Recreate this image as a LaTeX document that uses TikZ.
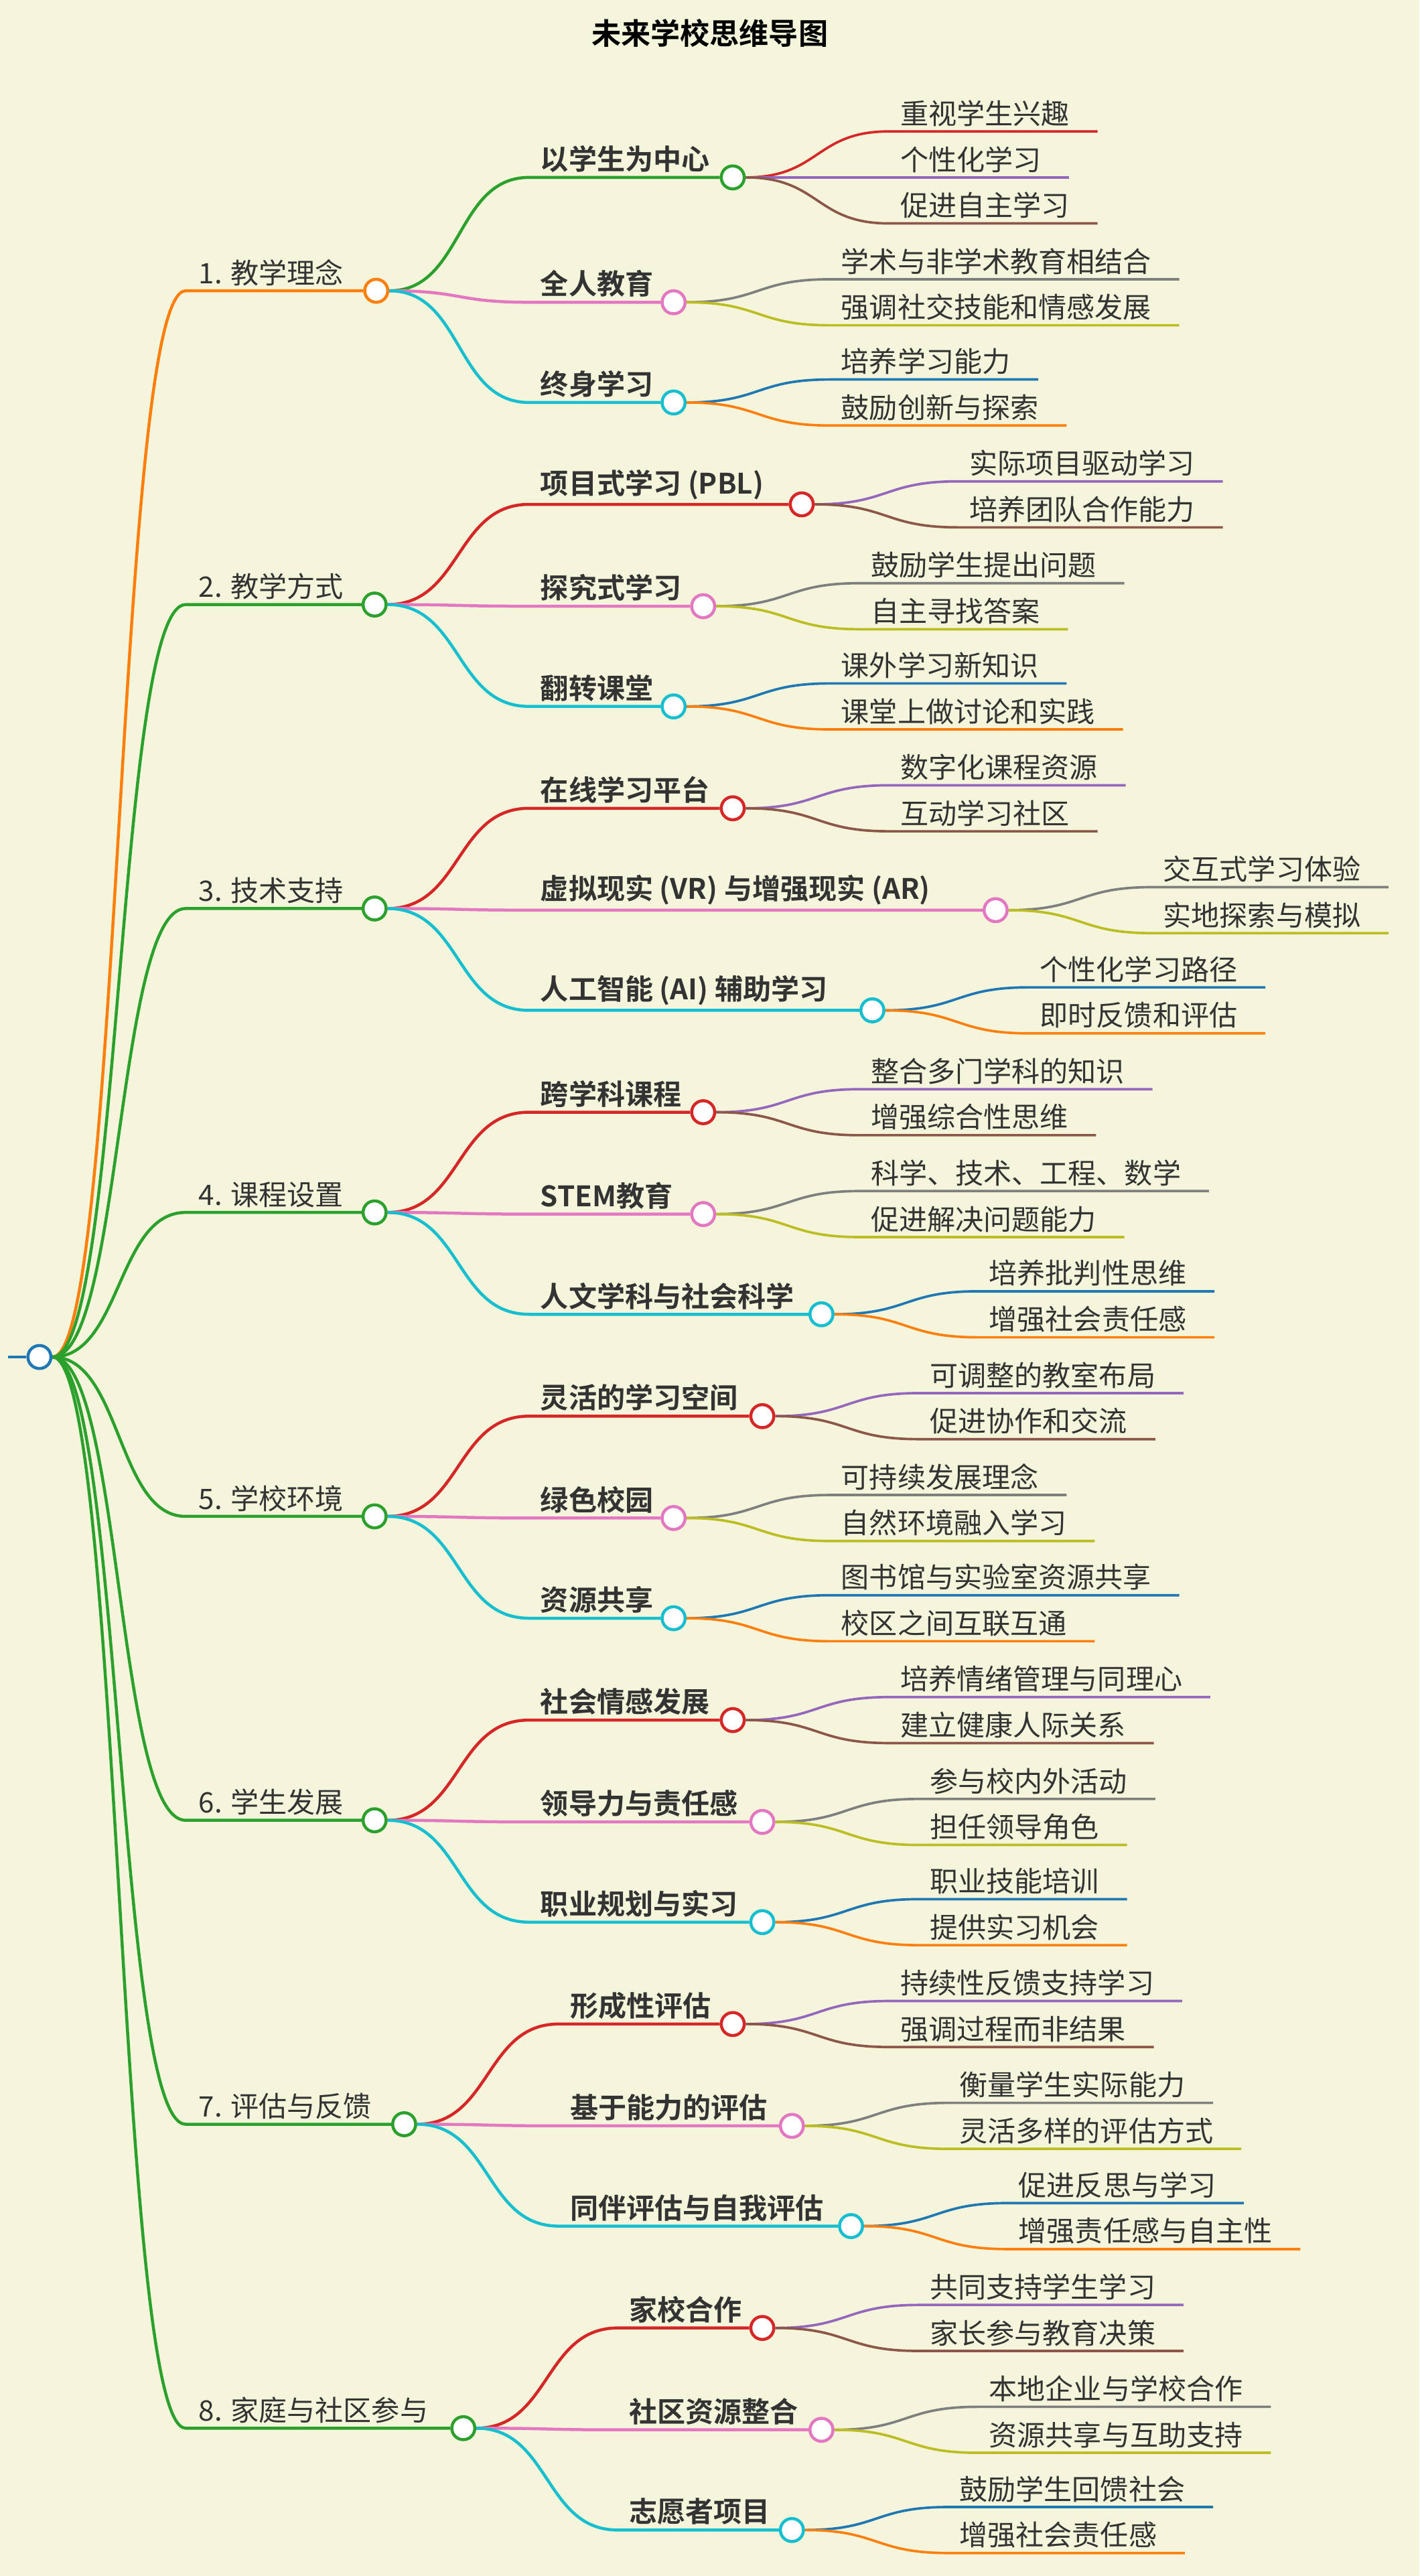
\documentclass[tikz,border=0pt]{standalone}
\usepackage{fontspec}
\setmainfont{Noto Sans CJK SC}[BoldFont={Noto Sans CJK SC Bold}]
\definecolor{cblue}{HTML}{1F77B4}\definecolor{corange}{HTML}{FF7F0E}
\definecolor{cgreen}{HTML}{2CA02C}\definecolor{cred}{HTML}{D62728}
\definecolor{cpurple}{HTML}{9467BD}\definecolor{cbrown}{HTML}{8C564B}
\definecolor{cpink}{HTML}{E377C2}\definecolor{cgray}{HTML}{7F7F7F}
\definecolor{colive}{HTML}{BCBD22}\definecolor{ccyan}{HTML}{17BECF}
\definecolor{bgc}{HTML}{F5F5DC}\definecolor{txtc}{HTML}{333333}
\pgfdeclarelayer{bg}\pgfdeclarelayer{back}\pgfsetlayers{back,bg,main}
\tikzset{
 circ/.style={circle,fill=white,line width=1.1pt,minimum width=7.8pt,minimum height=8.4pt,inner sep=0pt},
 txt/.style={inner sep=1pt,text=txtc,font=\fontsize{10.3}{12}\selectfont,anchor=south west},
 btxt/.style={txt,font=\fontsize{10.3}{12}\selectfont\bfseries},
 edge/.style={line width=1.1pt},
 edge3/.style={line width=0.9pt},
}
\newcommand\Lone[5]{% name y cx color text
 \coordinate (#1-s) at (113,#2);
 \node[circ,draw=#4] (#1) at (#3,#2) {};
 \node[txt] (#1-t) at (119,#2-1) {#5};
 \begin{pgfonlayer}{bg}\draw[edge,#4] (root.east) .. controls +(42,0) and +(-42,0) .. (#1-s) -- (#1.west);\end{pgfonlayer}}
\newcommand\Ltwo[7]{% parent name sx y cx color text
 \coordinate (#2-s) at (#3,#4);
 \node[circ,draw=#6] (#2) at (#5,#4) {};
 \node[btxt] (#2-t) at (#3+5,#4-1) {#7};
 \begin{pgfonlayer}{bg}\draw[edge,#6] (#1.east) .. controls +(45,0) and +(-45,0) .. (#2-s) -- (#2.west);\end{pgfonlayer}}
\newcommand\Lthree[5]{% parent name dy color text
 \path (#1) ++(95,#3) coordinate (#2-s);
 \node[txt] (#2-t) at ([shift={(5,-1)}]#2-s) {#5};
 \begin{pgfonlayer}{bg}\draw[edge3,#4] (#1.east) .. controls +(45,0) and +(-45,0) .. (#2-s) -- (#2-s -| #2-t.east) -- ++(15,0);\end{pgfonlayer}}
\begin{document}
\begin{tikzpicture}[x=0.6pt,y=-0.6pt]
\begin{pgfonlayer}{back}
\fill[bgc] (0,0) rectangle (864,1568);
\end{pgfonlayer}
\useasboundingbox (0,0) rectangle (864,1568);
\node[font=\fontsize{10.8}{12}\selectfont\bfseries,text=black] (title) at (432,20) {未来学校思维导图};
\node[circ,draw=cblue] (root) at (24,826) {};
\coordinate (rootl) at (5,826);
\begin{pgfonlayer}{bg}\draw[edge,cblue] (rootl) -- (root.west);\end{pgfonlayer}
% G1
\Lone{g1}{177}{229}{corange}{1. 教学理念}
\Ltwo{g1}{a1}{322}{108}{446}{cgreen}{以学生为中心}
\Lthree{a1}{a1x}{-28}{cred}{重视学生兴趣}
\Lthree{a1}{a1y}{0}{cpurple}{个性化学习}
\Lthree{a1}{a1z}{28}{cbrown}{促进自主学习}
\Ltwo{g1}{a2}{322}{184}{410}{cpink}{全人教育}
\Lthree{a2}{a2x}{-14}{cgray}{学术与非学术教育相结合}
\Lthree{a2}{a2y}{14}{colive}{强调社交技能和情感发展}
\Ltwo{g1}{a3}{322}{245}{410}{ccyan}{终身学习}
\Lthree{a3}{a3x}{-14}{cblue}{培养学习能力}
\Lthree{a3}{a3y}{14}{corange}{鼓励创新与探索}
% G2
\Lone{g2}{368}{228}{cgreen}{2. 教学方式}
\Ltwo{g2}{b1}{322}{307}{488}{cred}{项目式学习 (PBL)}
\Lthree{b1}{b1x}{-14}{cpurple}{实际项目驱动学习}
\Lthree{b1}{b1y}{14}{cbrown}{培养团队合作能力}
\Ltwo{g2}{b2}{322}{369}{428}{cpink}{探究式学习}
\Lthree{b2}{b2x}{-14}{cgray}{鼓励学生提出问题}
\Lthree{b2}{b2y}{14}{colive}{自主寻找答案}
\Ltwo{g2}{b3}{322}{430}{410}{ccyan}{翻转课堂}
\Lthree{b3}{b3x}{-14}{cblue}{课外学习新知识}
\Lthree{b3}{b3y}{14}{corange}{课堂上做讨论和实践}
% G3
\Lone{g3}{553}{228}{cgreen}{3. 技术支持}
\Ltwo{g3}{c1}{322}{492}{446}{cred}{在线学习平台}
\Lthree{c1}{c1x}{-14}{cpurple}{数字化课程资源}
\Lthree{c1}{c1y}{14}{cbrown}{互动学习社区}
\Ltwo{g3}{c2}{322}{554}{606}{cpink}{虚拟现实 (VR) 与增强现实 (AR)}
\Lthree{c2}{c2x}{-14}{cgray}{交互式学习体验}
\Lthree{c2}{c2y}{14}{colive}{实地探索与模拟}
\Ltwo{g3}{c3}{322}{615}{531}{ccyan}{人工智能 (AI) 辅助学习}
\Lthree{c3}{c3x}{-14}{cblue}{个性化学习路径}
\Lthree{c3}{c3y}{14}{corange}{即时反馈和评估}
% G4
\Lone{g4}{738}{228}{cgreen}{4. 课程设置}
\Ltwo{g4}{d1}{322}{677}{428}{cred}{跨学科课程}
\Lthree{d1}{d1x}{-14}{cpurple}{整合多门学科的知识}
\Lthree{d1}{d1y}{14}{cbrown}{增强综合性思维}
\Ltwo{g4}{d2}{322}{739}{428}{cpink}{STEM教育}
\Lthree{d2}{d2x}{-14}{cgray}{科学、技术、工程、数学}
\Lthree{d2}{d2y}{14}{colive}{促进解决问题能力}
\Ltwo{g4}{d3}{322}{800}{500}{ccyan}{人文学科与社会科学}
\Lthree{d3}{d3x}{-14}{cblue}{培养批判性思维}
\Lthree{d3}{d3y}{14}{corange}{增强社会责任感}
% G5
\Lone{g5}{923}{228}{cgreen}{5. 学校环境}
\Ltwo{g5}{e1}{322}{862}{464}{cred}{灵活的学习空间}
\Lthree{e1}{e1x}{-14}{cpurple}{可调整的教室布局}
\Lthree{e1}{e1y}{14}{cbrown}{促进协作和交流}
\Ltwo{g5}{e2}{322}{924}{410}{cpink}{绿色校园}
\Lthree{e2}{e2x}{-14}{cgray}{可持续发展理念}
\Lthree{e2}{e2y}{14}{colive}{自然环境融入学习}
\Ltwo{g5}{e3}{322}{985}{410}{ccyan}{资源共享}
\Lthree{e3}{e3x}{-14}{cblue}{图书馆与实验室资源共享}
\Lthree{e3}{e3y}{14}{corange}{校区之间互联互通}
% G6
\Lone{g6}{1108}{228}{cgreen}{6. 学生发展}
\Ltwo{g6}{f1}{322}{1047}{446}{cred}{社会情感发展}
\Lthree{f1}{f1x}{-14}{cpurple}{培养情绪管理与同理心}
\Lthree{f1}{f1y}{14}{cbrown}{建立健康人际关系}
\Ltwo{g6}{f2}{322}{1109}{464}{cpink}{领导力与责任感}
\Lthree{f2}{f2x}{-14}{cgray}{参与校内外活动}
\Lthree{f2}{f2y}{14}{colive}{担任领导角色}
\Ltwo{g6}{f3}{322}{1170}{464}{ccyan}{职业规划与实习}
\Lthree{f3}{f3x}{-14}{cblue}{职业技能培训}
\Lthree{f3}{f3y}{14}{corange}{提供实习机会}
% G7
\Lone{g7}{1293}{246}{cgreen}{7. 评估与反馈}
\Ltwo{g7}{h1}{340}{1232}{446}{cred}{形成性评估}
\Lthree{h1}{h1x}{-14}{cpurple}{持续性反馈支持学习}
\Lthree{h1}{h1y}{14}{cbrown}{强调过程而非结果}
\Ltwo{g7}{h2}{340}{1294}{482}{cpink}{基于能力的评估}
\Lthree{h2}{h2x}{-14}{cgray}{衡量学生实际能力}
\Lthree{h2}{h2y}{14}{colive}{灵活多样的评估方式}
\Ltwo{g7}{h3}{340}{1355}{518}{ccyan}{同伴评估与自我评估}
\Lthree{h3}{h3x}{-14}{cblue}{促进反思与学习}
\Lthree{h3}{h3y}{14}{corange}{增强责任感与自主性}
% G8
\Lone{g8}{1478}{282}{cgreen}{8. 家庭与社区参与}
\Ltwo{g8}{k1}{376}{1417}{464}{cred}{家校合作}
\Lthree{k1}{k1x}{-14}{cpurple}{共同支持学生学习}
\Lthree{k1}{k1y}{14}{cbrown}{家长参与教育决策}
\Ltwo{g8}{k2}{376}{1479}{500}{cpink}{社区资源整合}
\Lthree{k2}{k2x}{-14}{cgray}{本地企业与学校合作}
\Lthree{k2}{k2y}{14}{colive}{资源共享与互助支持}
\Ltwo{g8}{k3}{376}{1540}{482}{ccyan}{志愿者项目}
\Lthree{k3}{k3x}{-14}{cblue}{鼓励学生回馈社会}
\Lthree{k3}{k3y}{14}{corange}{增强社会责任感}
\end{tikzpicture}
\end{document}
